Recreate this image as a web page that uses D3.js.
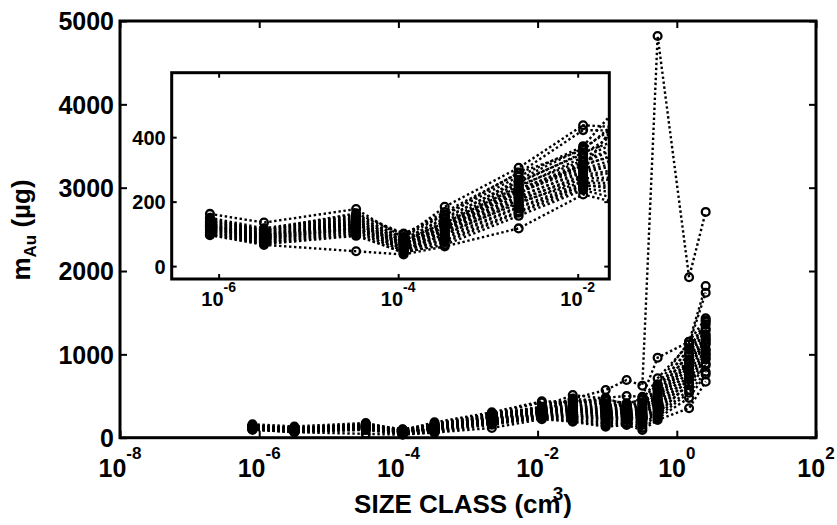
<!DOCTYPE html>
<html>
<head>
<meta charset="utf-8">
<script src="https://cdn.jsdelivr.net/npm/d3@7"></script>
<style>
    body { margin: 0; background: #fff; }
    text { font-family: "Liberation Sans", Arial, Helvetica, sans-serif; font-weight: bold; fill: #000; }
    .tick line { stroke: #000; stroke-width: 2; }
    .domain { display: none; }
</style>
</head>
<body>
<svg id="chart" width="837" height="525"></svg>
<script>
// size classes (cm^3)
const sizeClass = [8e-7, 3.2e-6, 3.4e-5, 1.15e-4, 3.3e-4, 2.2e-3, 1.15e-2, 3.2e-2, 9.5e-2, 0.19, 0.32, 0.53, 1.5, 2.6];

// gold mass per size class (µg), one row per sample
const massAu = [
    [162, 135, 177,  88, 184, 305, 437, 430, 480, 500, 492, 960, 1150, 1820],
    [150, 117, 160,  98, 168, 288, 422, 420, 455, 413, 455, 713, 1120, 1740],
    [147, 112, 164, 101, 158, 278, 372, 512, 470, 400, 473, 640, 1152, 1433],
    [143, 109, 152,  90, 160, 290, 360, 465, 440, 395, 420, 610, 1060, 1410],
    [140, 111, 157,  84, 146, 268, 366, 448, 410, 388, 405, 590, 1075, 1360],
    [138, 104, 147,  82, 150, 262, 348, 425, 402, 372, 385, 575,  990, 1390],
    [136, 106, 150,  76, 138, 258, 352, 398, 385, 376, 360, 545, 1010, 1290],
    [131, 101, 143,  79, 134, 246, 338, 392, 362, 355, 352, 528,  940, 1310],
    [133,  99, 139,  71, 131, 250, 328, 375, 355, 346, 338, 505,  925, 1240],
    [127,  97, 141,  73, 126, 236, 322, 372, 336, 338, 325, 498,  890, 1215],
    [129,  95, 134,  67, 127, 240, 312, 355, 332, 325, 318, 470,  905, 1170],
    [124,  93, 131,  69, 120, 226, 316, 348, 318, 322, 298, 462,  845, 1185],
    [121,  92, 128,  63, 122, 230, 302, 338, 305, 305, 292, 445,  860, 1120],
    [123,  89, 130,  65, 114, 214, 296, 326, 292, 298, 275, 425,  795, 1140],
    [117,  88, 124,  59, 116, 218, 290, 318, 284, 286, 272, 402,  812, 1045],
    [119,  85, 121,  61, 108, 204, 283, 302, 268, 284, 258, 386,  742, 1060],
    [113,  86, 119,  55, 110, 208, 276, 295, 262, 266, 252, 356,  760,  995],
    [115,  82, 116,  57, 102, 194, 272, 276, 248, 262, 236, 348,  698, 1010],
    [109,  81, 117,  51,  98, 198, 262, 272, 244, 245, 232, 318,  712,  940],
    [111,  77, 111,  53,  92, 184, 258, 258, 226, 242, 218, 305,  640,  960],
    [104,  76, 108,  47,  86, 182, 248, 252, 214, 226, 204, 284,  655,  870],
    [106,  72, 103,  49,  80, 170, 252, 236, 188, 214, 176, 276,  575,  890],
    [100,  71,  98,  41,  74, 166, 242, 224, 172, 186, 152, 252,  540,  790],
    [ 98,  68,  94,  43,  66, 156, 236, 204, 148, 172, 118, 232,  478,  760],
    [ 96,  66,  46,  36,  61, 117, 222, 192, 132, 152,  92, 212,  353,  672],
    [125,  94, 136,  70, 124, 232, 306, 470, 572, 692, 624, 4820, 1925, 2709]
];

const mainYTicks = [0, 1000, 2000, 3000, 4000, 5000];
const mainXExp = [-8, -6, -4, -2, 0, 2];
const insetYTicks = [0, 200, 400];
const insetXExp = [-6, -4, -2];

const svg = d3.select('#chart');

const mainX = d3.scaleLog().domain([1e-8, 1e2]).range([120, 816]);
const mainY = d3.scaleLinear().domain([0, 5000]).range([437.7, 21]);

const insetX = d3.scaleLog().domain([3e-7, 0.0225]).range([171.7, 609.3]);
const insetY = d3.scaleLinear().domain([-40, 600]).range([279, 72.7]);

drawSeries = (g, x, y) => {
    const line = d3.line().x(d => x(d[0])).y(d => y(d[1]));
    massAu.forEach(row => {
        const pts = row.map((v, i) => [sizeClass[i], v]);
        g.append('path')
            .attr('d', line(pts))
            .attr('fill', 'none')
            .attr('stroke', '#000')
            .attr('stroke-width', 2.4)
            .attr('stroke-dasharray', '2.4,2.6');
        g.selectAll(null)
            .data(pts)
            .enter()
            .append('circle')
            .attr('cx', d => x(d[0]))
            .attr('cy', d => y(d[1]))
            .attr('r', 3.9)
            .attr('fill', 'none')
            .attr('stroke', '#000')
            .attr('stroke-width', 2.3);
    });
};

drawAxes = (g, x, y, xExp, yTicks, o) => {
    const [x0, x1] = x.range();
    const [y0, y1] = y.range();
    const xVals = xExp.map(e => Math.pow(10, e));

    g.append('g').attr('transform', `translate(0,${y0})`)
        .call(d3.axisBottom(x).tickValues(xVals).tickSize(-o.tick).tickFormat(''));
    g.append('g').attr('transform', `translate(0,${y1})`)
        .call(d3.axisTop(x).tickValues(xVals).tickSize(-o.tick).tickFormat(''));
    g.append('g').attr('transform', `translate(${x0},0)`)
        .call(d3.axisLeft(y).tickValues(yTicks).tickSize(-o.tick).tickFormat(''));
    g.append('g').attr('transform', `translate(${x1},0)`)
        .call(d3.axisRight(y).tickValues(yTicks).tickSize(-o.tick).tickFormat(''));
    g.selectAll('.tick text').remove();

    g.append('rect')
        .attr('x', x0).attr('y', y1)
        .attr('width', x1 - x0).attr('height', y0 - y1)
        .attr('fill', 'none').attr('stroke', '#000').attr('stroke-width', 3);

    // y labels
    g.selectAll(null)
        .data(yTicks)
        .enter()
        .append('text')
        .attr('x', x0 - o.ypad)
        .attr('y', d => y(d) + o.fs * 0.37)
        .attr('text-anchor', 'end')
        .style('font-size', o.fs + 'px')
        .text(d => d);

    // x labels 10^n
    const xl = g.selectAll(null)
        .data(xExp)
        .enter()
        .append('text')
        .attr('x', d => x(Math.pow(10, d)))
        .attr('y', o.xbase)
        .attr('text-anchor', 'middle')
        .style('font-size', o.fs + 'px');
    xl.append('tspan').text('10');
    xl.append('tspan')
        .attr('dy', -o.sup)
        .style('font-size', o.supfs + 'px')
        .text(d => d);
};

// main axes
const main = svg.append('g');
drawSeries(main.append('g'), mainX, mainY);
drawAxes(main, mainX, mainY, mainXExp, mainYTicks,
    { tick: 7, fs: 25, ypad: 6, xbase: 477, sup: 18, supfs: 17 });

// inset axes
const inset = svg.append('g');
inset.append('clipPath').attr('id', 'clipInset')
    .append('rect')
    .attr('x', 171.7).attr('y', 72.7)
    .attr('width', 609.3 - 171.7).attr('height', 279 - 72.7);
inset.append('rect')
    .attr('x', 171.7).attr('y', 72.7)
    .attr('width', 609.3 - 171.7).attr('height', 279 - 72.7)
    .attr('fill', '#fff');
drawSeries(inset.append('g').attr('clip-path', 'url(#clipInset)'), insetX, insetY);
drawAxes(inset, insetX, insetY, insetXExp, insetYTicks,
    { tick: 5, fs: 20, ypad: 6, xbase: 306, sup: 14, supfs: 14 });

// axis titles
const xt = svg.append('text')
    .attr('x', 463)
    .attr('y', 513)
    .attr('text-anchor', 'middle')
    .style('font-size', '26px');
xt.append('tspan').text('SIZE CLASS (cm');
xt.append('tspan').attr('dx', -8).attr('dy', -13).style('font-size', '19px').text('3');
xt.append('tspan').attr('dy', 13).text(')');

const yt = svg.append('text')
    .attr('transform', 'translate(30,230) rotate(-90)')
    .attr('text-anchor', 'middle')
    .style('font-size', '26px');
yt.append('tspan').text('m');
yt.append('tspan').attr('dy', 6).style('font-size', '17px').text('Au');
yt.append('tspan').attr('dy', -6).text(' (µg)');
</script>
</body>
</html>
